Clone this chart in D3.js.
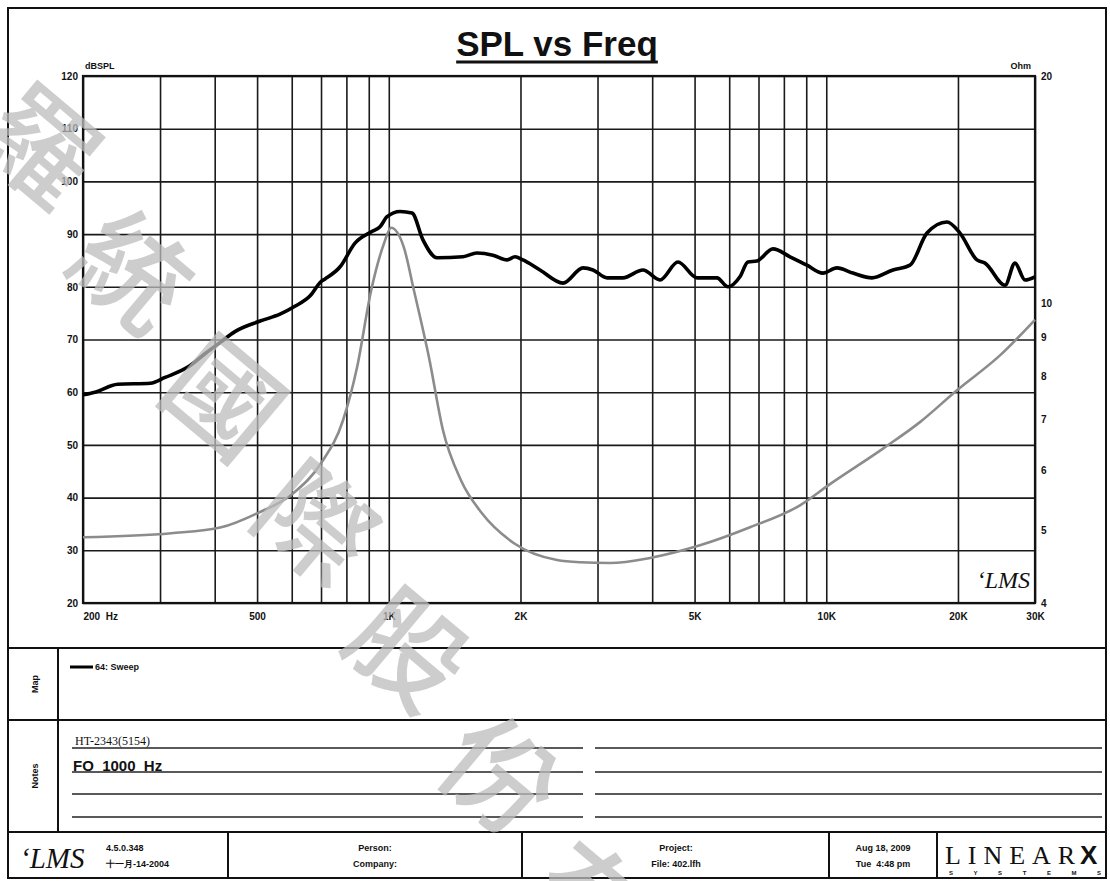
<!DOCTYPE html>
<html>
<head>
<meta charset="utf-8">
<script src="https://cdn.jsdelivr.net/npm/d3@7"></script>
<style>
  body { margin: 0; background: #fff; }
</style>
</head>
<body>
<div id="chart"></div>
<script>
// SPL vs Freq (LMS sweep)

// SPL curve, black (dB SPL)
var splFreq = [200, 213, 240, 285, 308, 351, 380, 411, 445, 508, 564, 610, 661, 700, 715, 774, 837, 915, 955, 991,
    1061, 1130, 1197, 1289, 1478, 1590, 1730, 1863, 1943, 2026, 2216, 2502, 2780, 2930, 3154, 3430, 3811, 4168,
    4582, 5064, 5626, 5962, 6348, 6622, 6944, 7554, 8260, 9034, 9826, 10578, 11508, 12720, 14204, 15538, 16990,
    18876, 20212, 22100, 23060, 25620, 27000, 28460, 30000];
var splDb = [59.5, 60, 61.5, 61.7, 62.8, 65, 67.3, 69.4, 71.5, 73.5, 74.8, 76.3, 78.3, 81, 81.5, 83.8, 88.3, 90.5, 91.4, 93.3,
    94.3, 94, 88.9, 85.5, 85.7, 86.4, 86, 85.1, 85.7, 85.1, 83.2, 80.7, 83.6, 83.2, 81.7, 81.7, 83.2, 81.3,
    84.7, 81.7, 81.7, 80, 81.9, 84.7, 84.9, 87.2, 85.7, 84.1, 82.6, 83.6, 82.6, 81.7, 83.2, 84.1, 90.2,
    92.3, 90.2, 85.1, 84.5, 80.3, 84.5, 81.3, 81.9];

// Impedance curve, grey (Ohm, right axis)
var zFreq = [200, 318, 414, 500, 604, 700, 786, 846, 911, 975, 1012, 1083, 1142, 1236, 1330, 1462, 1633, 1933,
    2424, 2736, 3204, 3954, 5144, 6694, 8708, 10196, 13480, 16376, 19894, 24946, 30000];
var zOhm = [4.89, 4.95, 5.04, 5.26, 5.59, 6.13, 6.99, 8.21, 10.38, 11.99, 12.58, 11.84, 10.38, 8.46, 6.78, 5.82, 5.26, 4.80,
    4.56, 4.53, 4.52, 4.59, 4.77, 5.04, 5.39, 5.75, 6.41, 6.95, 7.66, 8.52, 9.5];

// axes
var gridFreqs = [200, 300, 400, 500, 600, 700, 800, 900, 1000, 2000, 3000, 4000, 5000, 6000, 7000, 8000, 9000, 10000, 20000, 30000];
var xLabelFreqs = [200, 500, 1000, 2000, 5000, 10000, 20000, 30000];
var xLabelText = ["200  Hz", "500", "1K", "2K", "5K", "10K", "20K", "30K"];
var splTicks = [20, 30, 40, 50, 60, 70, 80, 90, 100, 110, 120];
var ohmTicks = [4, 5, 6, 7, 8, 9, 10, 20];

// page texts
var watermarkChars = ["羅", "統", "國", "際", "股", "份", "有"];
var noteLines = ["HT-2343(5154)", "FO  1000  Hz"];

var W = 1110, H = 881;
var plotLeft = 83, plotRight = 1035, plotTop = 76, plotBottom = 603;
var sans = "Liberation Sans, Arial, sans-serif";
var serif = "Liberation Serif, Times New Roman, serif";

var svg = d3.select("#chart").append("svg")
    .attr("width", W)
    .attr("height", H)
    .style("font-family", sans);

var x = d3.scaleLog().domain([200, 30000]).range([plotLeft, plotRight]);
var y = d3.scaleLinear().domain([20, 120]).range([plotBottom, plotTop]);
var yOhm = d3.scaleLog().domain([4, 20]).range([plotBottom, plotTop]);

// outer frame
svg.append("rect")
    .attr("x", 8).attr("y", 8)
    .attr("width", 1098).attr("height", 870)
    .attr("fill", "none").attr("stroke", "#111").attr("stroke-width", 2);

// title
var title = svg.append("text")
    .attr("x", 557).attr("y", 56)
    .attr("text-anchor", "middle")
    .style("font-family", sans)
    .attr("font-size", "35px")
    .attr("font-weight", "bold")
    .attr("fill", "#111")
    .text("SPL vs Freq");
var tb = title.node().getBBox();
svg.append("line")
    .attr("x1", tb.x).attr("x2", tb.x + tb.width)
    .attr("y1", 62).attr("y2", 62)
    .attr("stroke", "#111").attr("stroke-width", 3);

// horizontal grid + left labels
var yAxis = d3.axisLeft(y)
    .tickValues(splTicks)
    .tickSize(-(plotRight - plotLeft))
    .tickPadding(5)
    .tickFormat(d3.format("d"));
var gy = svg.append("g")
    .attr("transform", "translate(" + plotLeft + ",0)")
    .call(yAxis);
gy.select(".domain").remove();
gy.selectAll("line").attr("stroke", "#1a1a1a").attr("stroke-width", 1.6);
gy.selectAll("text")
    .attr("font-size", "10px").attr("font-weight", "bold").attr("fill", "#111")
    .style("font-family", sans);

// vertical grid + frequency labels
var xAxis = d3.axisBottom(x)
    .tickValues(gridFreqs)
    .tickSize(-(plotBottom - plotTop))
    .tickPadding(10)
    .tickFormat(function (d) {
        var i = xLabelFreqs.indexOf(d);
        return i >= 0 ? xLabelText[i] : "";
    });
var gx = svg.append("g")
    .attr("transform", "translate(0," + plotBottom + ")")
    .call(xAxis);
gx.select(".domain").remove();
gx.selectAll("line").attr("stroke", "#1a1a1a").attr("stroke-width", 1.6);
gx.selectAll("text")
    .attr("font-size", "10px").attr("font-weight", "bold").attr("fill", "#111")
    .style("font-family", sans)
    .style("white-space", "pre")
    .attr("text-anchor", function (d) { return d === 200 ? "start" : "middle"; });

// right impedance labels
var yAxisR = d3.axisRight(yOhm)
    .tickValues(ohmTicks)
    .tickSize(0)
    .tickPadding(6)
    .tickFormat(d3.format("d"));
var gr = svg.append("g")
    .attr("transform", "translate(" + plotRight + ",0)")
    .call(yAxisR);
gr.select(".domain").remove();
gr.selectAll("text")
    .attr("font-size", "10px").attr("font-weight", "bold").attr("fill", "#111")
    .style("font-family", sans);

// plot frame
svg.append("rect")
    .attr("x", plotLeft).attr("y", plotTop)
    .attr("width", plotRight - plotLeft).attr("height", plotBottom - plotTop)
    .attr("fill", "none").attr("stroke", "#111").attr("stroke-width", 2.2);

svg.append("text")
    .attr("x", plotLeft + 2).attr("y", plotTop - 7)
    .attr("font-size", "9px").attr("font-weight", "bold").attr("fill", "#111")
    .text("dBSPL");
svg.append("text")
    .attr("x", plotRight - 4).attr("y", plotTop - 7)
    .attr("text-anchor", "end")
    .attr("font-size", "9px").attr("font-weight", "bold").attr("fill", "#111")
    .text("Ohm");

// curves
var splLine = d3.line()
    .x(function (d, i) { return x(splFreq[i]); })
    .y(function (d) { return y(d); })
    .curve(d3.curveMonotoneX);
var zLine = d3.line()
    .x(function (d, i) { return x(zFreq[i]); })
    .y(function (d) { return yOhm(d); })
    .curve(d3.curveMonotoneX);

svg.append("path")
    .datum(zOhm)
    .attr("d", zLine)
    .attr("fill", "none")
    .attr("stroke", "#8c8c8c")
    .attr("stroke-width", 2.6);

svg.append("path")
    .datum(splDb)
    .attr("d", splLine)
    .attr("fill", "none")
    .attr("stroke", "#000")
    .attr("stroke-width", 3.6)
    .attr("stroke-linejoin", "round");

// LMS mark inside plot
svg.append("text")
    .attr("x", 1030).attr("y", 588)
    .attr("text-anchor", "end")
    .style("font-family", serif)
    .attr("font-style", "italic")
    .attr("font-size", "24px")
    .attr("fill", "#111")
    .text("ʻLMS");

// ---- lower panels ----
var frame = svg.append("g").attr("stroke", "#111").attr("stroke-width", 2);
frame.append("line").attr("x1", 8).attr("x2", 1106).attr("y1", 648).attr("y2", 648);
frame.append("line").attr("x1", 8).attr("x2", 1106).attr("y1", 720).attr("y2", 720);
frame.append("line").attr("x1", 8).attr("x2", 1106).attr("y1", 832).attr("y2", 832);
frame.append("line").attr("x1", 58).attr("x2", 58).attr("y1", 648).attr("y2", 832);
[228, 522, 829, 937].forEach(function (xx) {
    frame.append("line").attr("x1", xx).attr("x2", xx).attr("y1", 832).attr("y2", 878);
});

// note lines
var noteY = [748, 772, 794, 817];
noteY.forEach(function (yy) {
    svg.append("line").attr("x1", 72).attr("x2", 583).attr("y1", yy).attr("y2", yy)
        .attr("stroke", "#222").attr("stroke-width", 1.5);
    svg.append("line").attr("x1", 595).attr("x2", 1102).attr("y1", yy).attr("y2", yy)
        .attr("stroke", "#222").attr("stroke-width", 1.5);
});

// side labels
svg.append("text")
    .attr("transform", "translate(38,684) rotate(-90)")
    .attr("text-anchor", "middle")
    .attr("font-size", "9px").attr("font-weight", "bold").attr("fill", "#111")
    .text("Map");
svg.append("text")
    .attr("transform", "translate(38,776) rotate(-90)")
    .attr("text-anchor", "middle")
    .attr("font-size", "9px").attr("font-weight", "bold").attr("fill", "#111")
    .text("Notes");

// map legend
svg.append("line")
    .attr("x1", 70).attr("x2", 93).attr("y1", 667).attr("y2", 667)
    .attr("stroke", "#000").attr("stroke-width", 3);
svg.append("text")
    .attr("x", 95).attr("y", 670)
    .attr("font-size", "9px").attr("font-weight", "bold").attr("fill", "#111")
    .text("64: Sweep");

// notes
svg.append("text")
    .attr("x", 75).attr("y", 745)
    .style("font-family", serif)
    .attr("font-size", "12px").attr("fill", "#111")
    .text(noteLines[0]);
svg.append("text")
    .attr("x", 73).attr("y", 771)
    .attr("font-size", "15px").attr("font-weight", "bold").attr("fill", "#111")
    .style("white-space", "pre")
    .text(noteLines[1]);

// footer
svg.append("text")
    .attr("x", 20).attr("y", 868)
    .style("font-family", serif)
    .attr("font-style", "italic")
    .attr("font-size", "29px").attr("fill", "#111")
    .text("ʻLMS");
var foot = [
    { x: 106, a: "start", l1: "4.5.0.348", l2: "十一月-14-2004" },
    { x: 375, a: "middle", l1: "Person:", l2: "Company:" },
    { x: 676, a: "middle", l1: "Project:", l2: "File: 402.lfh" },
    { x: 883, a: "middle", l1: "Aug 18, 2009", l2: "Tue  4:48 pm" }
];
foot.forEach(function (f) {
    svg.append("text").attr("x", f.x).attr("y", 851).attr("text-anchor", f.a)
        .attr("font-size", "9px").attr("font-weight", "bold").attr("fill", "#111")
        .style("white-space", "pre").text(f.l1);
    svg.append("text").attr("x", f.x).attr("y", 867).attr("text-anchor", f.a)
        .attr("font-size", "9px").attr("font-weight", "bold").attr("fill", "#111")
        .style("white-space", "pre").text(f.l2);
});
svg.append("text")
    .attr("x", 945).attr("y", 864)
    .style("font-family", serif)
    .attr("font-size", "26px").attr("fill", "#111")
    .attr("textLength", 130)
    .text("LINEAR");
svg.append("text")
    .attr("x", 1080).attr("y", 864)
    .attr("font-size", "26px").attr("font-weight", "bold").attr("fill", "#111")
    .text("X");
svg.append("text")
    .attr("x", 949).attr("y", 875)
    .attr("font-size", "6px").attr("font-weight", "bold").attr("fill", "#111")
    .attr("textLength", 152)
    .text("SYSTEMS");

// watermark
watermarkChars.forEach(function (c, i) {
    svg.append("text")
        .attr("transform", "translate(" + (45 + i * 92) + "," + (140 + i * 126) + ") rotate(40)")
        .attr("text-anchor", "middle")
        .attr("dominant-baseline", "central")
        .style("font-family", "Noto Sans CJK TC, Noto Sans CJK SC, sans-serif")
        .attr("font-size", "112px")
        .attr("font-weight", "500")
        .attr("fill", "#bdbdbd")
        .attr("opacity", 0.75)
        .text(c);
});
</script>
</body>
</html>
